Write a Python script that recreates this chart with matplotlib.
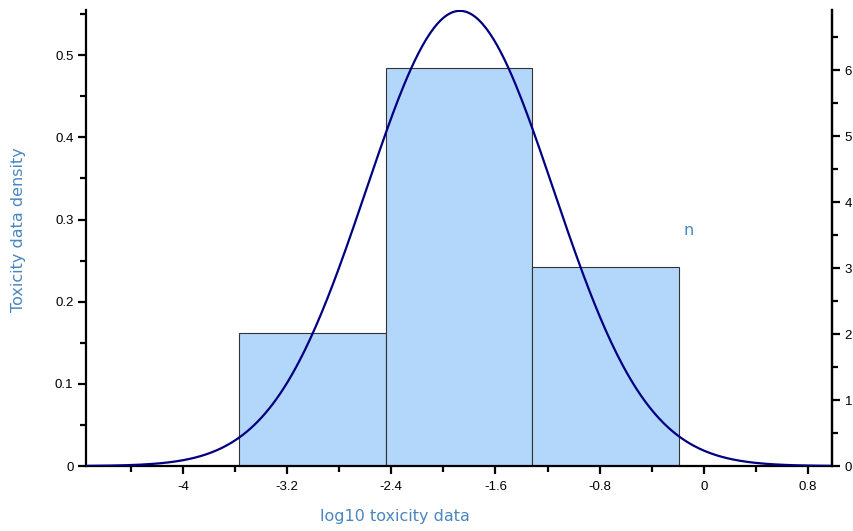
# histogram of log10 toxicity data with fitted normal curve
import matplotlib
matplotlib.use('Agg')
import matplotlib.pyplot as plt
import numpy as np
from matplotlib.ticker import MultipleLocator

# data
bin_edges = [-3.570, -2.443, -1.316, -0.190]
counts = [2, 6, 3]
fit_mean = -1.873
fit_sd = 0.720

xticks = [-4, -3.2, -2.4, -1.6, -0.8, 0, 0.8]
yticks = [0, 0.1, 0.2, 0.3, 0.4, 0.5]
nticks = [0, 1, 2, 3, 4, 5, 6]

label_color = '#4a86bf'
tick_font, tick_size = 'Liberation Sans', 9.5

edges = np.array(bin_edges)
widths = np.diff(edges)
n_total = sum(counts)
density = np.array(counts) / (n_total * widths)

fig = plt.figure(figsize=(8.54, 5.31), dpi=100)
ax = fig.add_axes([0.1007, 0.1224, 0.8735, 0.8586])

# bars
ax.bar(edges[:-1], density, width=widths, align='edge',
       color='#b3d7fa', edgecolor='#333333', linewidth=0.8, zorder=2)

# fitted normal curve
xs = np.linspace(-4.745, 0.985, 400)
ys = np.exp(-0.5 * ((xs - fit_mean) / fit_sd) ** 2) / (fit_sd * np.sqrt(2 * np.pi))
ax.plot(xs, ys, color='#000080', lw=1.6, zorder=3)

ax.set_xlim(-4.745, 0.985)
ax.set_ylim(0, 0.555)

# spines
ax.spines['top'].set_visible(False)
for s in ['left', 'right', 'bottom']:
    ax.spines[s].set_linewidth(1.6)

ax.set_xticks(xticks)
ax.set_xticklabels([('%g' % v) for v in xticks])
ax.xaxis.set_minor_locator(MultipleLocator(0.4))
ax.set_yticks(yticks)
ax.set_yticklabels([('%g' % v) for v in yticks])
ax.yaxis.set_minor_locator(MultipleLocator(0.05))
ax.tick_params(which='major', length=6, width=1.6, labelsize=tick_size, pad=5)
ax.tick_params(axis='y', which='major', pad=3)
ax.tick_params(which='minor', length=4, width=1.6)
for t in ax.get_xticklabels() + ax.get_yticklabels():
    t.set_fontfamily(tick_font)

# right axis in counts
ax2 = ax.twinx()
ax2.set_ylim(0, 6.91)
ax2.set_yticks(nticks)
ax2.set_yticklabels([str(v) for v in nticks])
ax2.yaxis.set_minor_locator(MultipleLocator(0.5))
ax2.spines['top'].set_visible(False)
ax2.spines['left'].set_visible(False)
ax2.spines['bottom'].set_visible(False)
ax2.spines['right'].set_linewidth(1.6)
ax2.tick_params(which='major', length=6, width=1.6, labelsize=tick_size, pad=3)
ax2.tick_params(which='minor', length=4, width=1.6)
for t in ax2.get_yticklabels():
    t.set_fontfamily(tick_font)

# labels
fig.text(0.022, 0.567, 'Toxicity data density', rotation=90, color=label_color,
         fontsize=11.5, ha='center', va='center')
fig.text(0.463, 0.028, 'log10 toxicity data', color=label_color,
         fontsize=11.5, ha='center', va='center')
fig.text(0.806, 0.566, 'n', color=label_color, fontsize=11.5,
         ha='center', va='center')

plt.savefig('out.png', dpi=100)
